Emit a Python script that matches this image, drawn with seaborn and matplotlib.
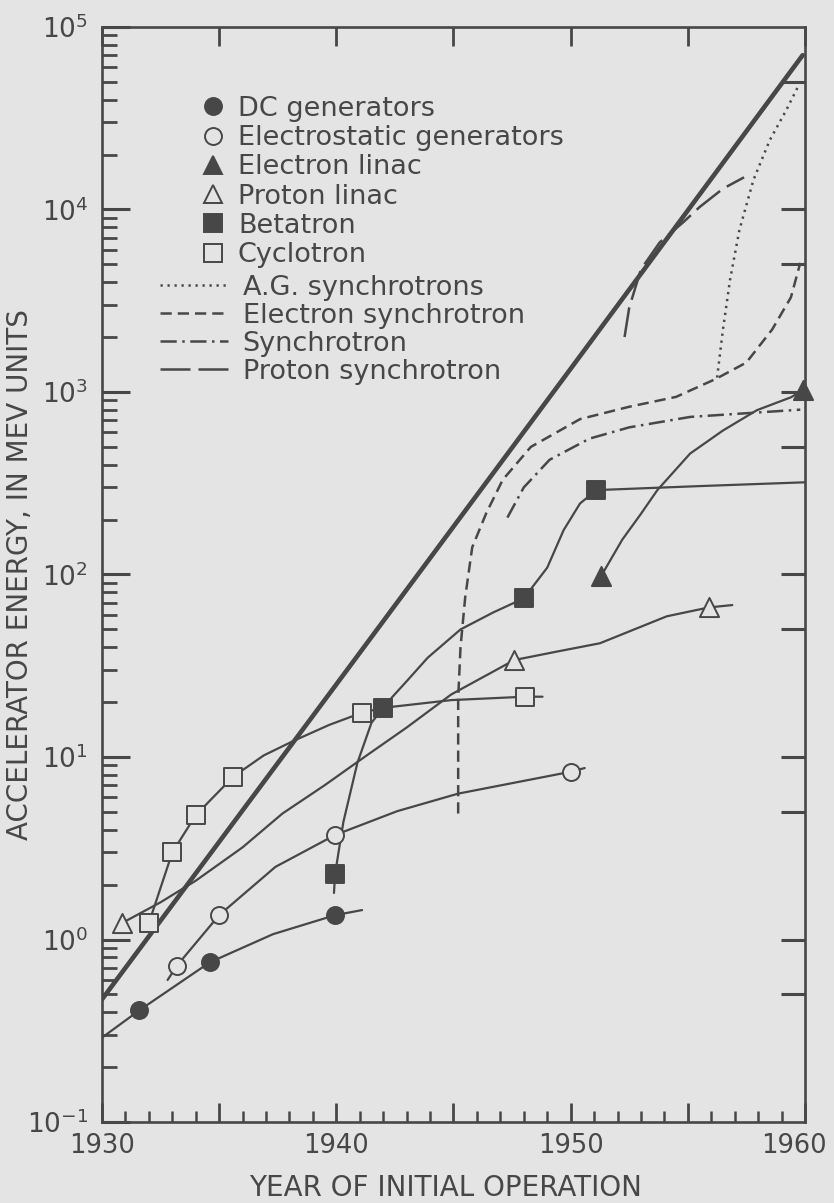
import numpy as np
import matplotlib.pyplot as plt
import matplotlib.transforms as mtransforms
import seaborn as sns
from matplotlib.lines import Line2D
from matplotlib.ticker import FixedLocator, NullLocator, FuncFormatter, LogLocator, MultipleLocator

INK = "#474747"
PAPER = "#e4e4e4"

# envelope line (thick, no legend entry)
env_year = [1930.0, 1940.0, 1950.0, 1959.9]
env_mev = [0.47, 25, 1340, 70000]

# DC generators
dc_line_year = [1930.0, 1931.6, 1934.6, 1937.3, 1939.95, 1941.1]
dc_line_mev = [0.29, 0.41, 0.75, 1.07, 1.36, 1.45]
dc_pt_year = [1931.6, 1934.6, 1939.95]
dc_pt_mev = [0.41, 0.75, 1.36]

# Electrostatic generators
esg_line_year = [1932.8, 1933.2, 1935.0, 1937.4, 1939.95, 1942.6, 1945.2, 1950.0, 1950.6]
esg_line_mev = [0.6, 0.72, 1.36, 2.5, 3.74, 5.05, 6.3, 8.3, 8.7]
esg_pt_year = [1933.2, 1935.0, 1939.95, 1950.0]
esg_pt_mev = [0.72, 1.36, 3.74, 8.3]

# Electron linac
eln_line_year = [1951.3, 1952.2, 1953.0, 1953.7, 1955.1, 1956.5, 1957.95, 1959.4, 1959.9]
eln_line_mev = [98, 155, 215, 290, 460, 615, 795, 935, 1020]
eln_pt_year = [1951.3, 1959.9]
eln_pt_mev = [98, 1020]

# Proton linac
pln_line_year = [1930.85, 1932.5, 1934.0, 1936.0, 1937.7, 1939.5, 1941.2, 1943.0, 1944.9,
                 1947.6, 1949.5, 1951.25, 1954.1, 1955.9, 1956.9]
pln_line_mev = [1.23, 1.6, 2.1, 3.2, 4.9, 7.0, 10.0, 14.5, 22, 34, 38, 42, 59, 66, 68]
pln_pt_year = [1930.85, 1947.6, 1955.9]
pln_pt_mev = [1.23, 34, 66]

# Betatron
bet_line_year = [1939.9, 1939.95, 1940.3, 1940.9, 1941.5, 1942.0, 1942.4, 1943.0, 1943.9,
                 1945.3, 1946.7, 1948.0, 1949.0, 1949.7, 1950.4, 1951.1, 1955.5, 1960.0]
bet_line_mev = [1.8, 2.3, 4.4, 9.3, 15.4, 18.6, 21.4, 26, 35, 50, 62, 74, 109, 175, 245, 290,
                305, 320]
bet_pt_year = [1939.95, 1942.0, 1948.0, 1951.1]
bet_pt_mev = [2.3, 18.6, 74, 290]

# Cyclotron
cyc_line_year = [1932.0, 1933.0, 1934.0, 1935.6, 1936.9, 1938.2, 1939.7, 1941.1, 1942.0,
                 1944.9, 1948.05, 1948.8]
cyc_line_mev = [1.23, 3.0, 4.8, 7.8, 10.2, 12.3, 15.0, 17.5, 18.6, 20.5, 21.4, 21.4]
cyc_pt_year = [1932.0, 1933.0, 1934.0, 1935.6, 1941.1, 1948.05]
cyc_pt_mev = [1.23, 3.0, 4.8, 7.8, 17.5, 21.4]

# A.G. synchrotrons
ag_year = [1956.25, 1956.5, 1956.8, 1957.2, 1957.8, 1958.5, 1959.2, 1959.7]
ag_mev = [1200, 2200, 4100, 7700, 14500, 24000, 35000, 47000]

# Electron synchrotron
esy_year = [1945.2, 1945.2, 1945.3, 1945.5, 1945.8, 1946.4, 1947.1, 1948.3, 1950.4, 1952.5,
            1954.5, 1956.2, 1957.5, 1958.6, 1959.4, 1959.8]
esy_mev = [4.9, 21, 40, 75, 141, 217, 330, 500, 710, 830, 940, 1180, 1450, 2200, 3300, 5100]

# Synchrotron
syn_year = [1947.3, 1948.0, 1949.1, 1950.8, 1952.5, 1955.1, 1959.8]
syn_mev = [205, 300, 425, 555, 640, 730, 800]

# Proton synchrotron
psy_year = [1952.3, 1952.5, 1953.0, 1953.8, 1954.8, 1955.5, 1956.5, 1957.4]
psy_mev = [2000, 2900, 4700, 6600, 8500, 10300, 13000, 15000]

y_major = [0.1, 1, 10, 100, 1000, 10000, 100000]
right_ticks = [0.5, 1, 5, 10, 50, 100, 500, 1000, 5000, 10000, 50000]

sns.set_theme(style="ticks", rc={"axes.facecolor": PAPER, "figure.facecolor": PAPER,
                                 "axes.edgecolor": INK, "text.color": INK,
                                 "xtick.color": INK, "ytick.color": INK,
                                 "axes.labelcolor": INK})
plt.rcParams["font.family"] = ["DejaVu Sans"]

fig, ax = plt.subplots(figsize=(8.34, 12.03), dpi=100)
fig.subplots_adjust(left=0.1223, right=0.9652, bottom=0.0673, top=0.9776)

ax.set_yscale("log")
ax.set_xlim(1930, 1960)
ax.set_ylim(0.1, 1e5)

THIN = 1.6
DASH = {
    "ag": (0, (0.9, 1.9)),
    "esy": (0, (4.5, 2.4)),
    "syn": (0, (6.5, 2.2, 1.0, 2.2)),
    "psy": (0, (12, 3.2)),
}

def draw_line(xs, ys, lw=THIN, ls="-"):
    sns.lineplot(x=xs, y=ys, sort=False, estimator=None, ax=ax, color=INK,
                 linewidth=lw, linestyle=ls, zorder=2)

draw_line(env_year, env_mev, lw=3.3)
draw_line(dc_line_year, dc_line_mev)
draw_line(esg_line_year, esg_line_mev)
draw_line(eln_line_year, eln_line_mev)
draw_line(pln_line_year, pln_line_mev)
draw_line(bet_line_year, bet_line_mev)
draw_line(cyc_line_year, cyc_line_mev)
draw_line(ag_year, ag_mev, lw=1.8, ls=DASH["ag"])
draw_line(esy_year, esy_mev, lw=1.8, ls=DASH["esy"])
draw_line(syn_year, syn_mev, lw=1.8, ls=DASH["syn"])
draw_line(psy_year, psy_mev, lw=1.8, ls=DASH["psy"])

def draw_pts(xs, ys, marker, filled, s):
    sns.scatterplot(x=xs, y=ys, marker=marker, s=s, ax=ax, zorder=3, legend=False,
                    color=INK if filled else PAPER, edgecolor=INK, linewidth=1.4,
                    clip_on=False)

draw_pts(dc_pt_year, dc_pt_mev, "o", True, 150)
draw_pts(esg_pt_year, esg_pt_mev, "o", False, 150)
draw_pts(eln_pt_year, eln_pt_mev, "^", True, 190)
draw_pts(pln_pt_year, pln_pt_mev, "^", False, 190)
draw_pts(bet_pt_year, bet_pt_mev, "s", True, 165)
draw_pts(cyc_pt_year, cyc_pt_mev, "s", False, 165)

# axes, ticks
for side in ax.spines.values():
    side.set_linewidth(1.9)
    side.set_color(INK)

ax.yaxis.set_major_locator(FixedLocator(y_major))
ax.yaxis.set_minor_locator(LogLocator(base=10, subs=np.arange(2, 10), numticks=20))
ax.yaxis.set_major_formatter(FuncFormatter(lambda v, p: r"$\mathregular{10^{%d}}$" % round(np.log10(v))))
ax.yaxis.set_minor_formatter(FuncFormatter(lambda v, p: ""))
ax.tick_params(axis="y", which="major", direction="in", length=20, width=2.2,
               labelsize=19, pad=10, left=True, right=False)
ax.tick_params(axis="y", which="minor", direction="in", length=11, width=2.0, left=True, right=False)

ax.xaxis.set_major_locator(MultipleLocator(5))
ax.xaxis.set_minor_locator(MultipleLocator(1))
ax.xaxis.set_major_formatter(FuncFormatter(lambda v, p: "%d" % v if round(v) % 10 == 0 else ""))
ax.tick_params(axis="x", which="major", direction="in", length=14, width=2.0,
               labelsize=18.5, pad=8, top=True, bottom=True)
ax.tick_params(axis="x", which="minor", direction="in", length=8, width=1.8, top=False, bottom=True)

# pull the last year label a little inside the figure
fig.canvas.draw()
shift = mtransforms.ScaledTranslation(-8 / 72, 0, fig.dpi_scale_trans)
for lab in ax.get_xticklabels():
    if lab.get_text() == "1960":
        lab.set_transform(lab.get_transform() + shift)

ax2 = ax.twinx()
ax2.set_yscale("log")
ax2.set_ylim(0.1, 1e5)
ax2.yaxis.set_major_locator(FixedLocator(right_ticks))
ax2.yaxis.set_minor_locator(NullLocator())
ax2.tick_params(axis="y", which="major", direction="in", length=17, width=2.2,
                labelright=False, right=True)
for side in ax2.spines.values():
    side.set_visible(False)

ax.set_ylabel("ACCELERATOR ENERGY, IN MEV UNITS", fontsize=20)
ax.yaxis.set_label_coords(-0.097, 0.5)
ax.set_xlabel("YEAR OF INITIAL OPERATION", fontsize=20)
ax.xaxis.set_label_coords(0.488, -0.047)

# legends
mk_handles = [
    Line2D([], [], ls="none", marker="o", ms=12.2, mfc=INK, mec=INK, mew=1.4),
    Line2D([], [], ls="none", marker="o", ms=12.2, mfc=PAPER, mec=INK, mew=1.4),
    Line2D([], [], ls="none", marker="^", ms=13.5, mfc=INK, mec=INK, mew=1.4),
    Line2D([], [], ls="none", marker="^", ms=13.5, mfc=PAPER, mec=INK, mew=1.4),
    Line2D([], [], ls="none", marker="s", ms=12.8, mfc=INK, mec=INK, mew=1.4),
    Line2D([], [], ls="none", marker="s", ms=12.8, mfc=PAPER, mec=INK, mew=1.4),
]
mk_labels = ["DC generators", "Electrostatic generators", "Electron linac",
             "Proton linac", "Betatron", "Cyclotron"]
ln_handles = [
    Line2D([], [], color=INK, lw=1.8, ls=DASH["ag"]),
    Line2D([], [], color=INK, lw=1.8, ls=DASH["esy"]),
    Line2D([], [], color=INK, lw=1.8, ls=DASH["syn"]),
    Line2D([], [], color=INK, lw=1.8, ls=DASH["psy"]),
]
ln_labels = ["A.G. synchrotrons", "Electron synchrotron", "Synchrotron", "Proton synchrotron"]

leg1 = ax2.legend(mk_handles, mk_labels, loc="upper left",
                  bbox_to_anchor=((200 - 102) / 703, (1122 - 96) / 1095),
                  frameon=False, fontsize=19.5, handlelength=0.95, handletextpad=0.45,
                  labelspacing=0.12, borderpad=0, borderaxespad=0, labelcolor=INK)
ax2.add_artist(leg1)
ax2.legend(ln_handles, ln_labels, loc="upper left",
           bbox_to_anchor=((160 - 102) / 703, (1122 - 275) / 1095),
           frameon=False, fontsize=19.5, handlelength=2.5, handletextpad=0.55,
           labelspacing=0.07, borderpad=0, borderaxespad=0, labelcolor=INK)

fig.savefig("out.png", dpi=100, facecolor=PAPER)
